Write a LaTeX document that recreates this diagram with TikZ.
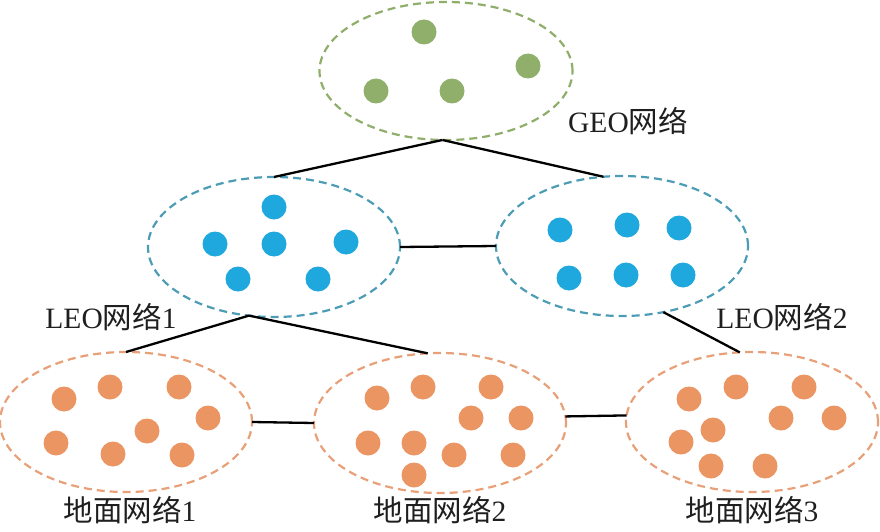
\documentclass[tikz,border=0pt]{standalone}
\usepackage{fontspec}
\setmainfont{Liberation Serif}
\newfontfamily\cjk{Noto Sans CJK SC}
\usetikzlibrary{shapes.geometric}
\definecolor{geoc}{HTML}{8FAF6B}
\definecolor{geoe}{HTML}{8FAE6A}
\definecolor{leoc}{HTML}{1FA8DD}
\definecolor{leoe}{HTML}{4D9CB6}
\definecolor{grc}{HTML}{EB9562}
\definecolor{gre}{HTML}{E8A078}
\tikzset{
  net/.style={ellipse, draw, dashed, dash pattern=on 8pt off 5pt, line width=2.2pt,
    minimum width=252pt, minimum height=140pt, inner sep=0pt, outer sep=0pt},
  geonet/.style={net, draw=geoe, minimum height=138pt, minimum width=253pt},
  leonet/.style={net, draw=leoe},
  grnet/.style={net, draw=gre},
  dot/.style={circle, minimum size=25pt, inner sep=0pt, draw=none},
  geodot/.style={dot, fill=geoc},
  leodot/.style={dot, fill=leoc},
  grdot/.style={dot, fill=grc},
  link/.style={draw=black, line width=2.3pt},
  lab/.style={anchor=base, inner sep=0pt, font=\fontsize{29.5}{34}\selectfont, text=black!88}
}
\begin{document}
\begin{tikzpicture}[x=1pt,y=-1pt]
\useasboundingbox (0,0) rectangle (880,532);
% networks
\node[geonet] (geo) at (446,71) {};
\node[leonet] (leo1) at (274,247) {};
\node[leonet] (leo2) at (622,246) {};
\node[grnet] (g1) at (126,422) {};
\node[grnet] (g2) at (440,423) {};
\node[grnet] (g3) at (752,422) {};
% GEO dots
\foreach \x/\y [count=\i] in {424/32, 528/66, 376/91, 452/91}
  \node[geodot] (gd\i) at (\x,\y) {};
% LEO1 dots
\foreach \x/\y [count=\i] in {274/207, 215/244, 274/244, 346/242, 238/279, 318/279}
  \node[leodot] (la\i) at (\x,\y) {};
% LEO2 dots
\foreach \x/\y [count=\i] in {560/230, 627/225, 679/228, 569/278, 626/275, 683/275}
  \node[leodot] (lb\i) at (\x,\y) {};
% Ground 1 dots
\foreach \x/\y [count=\i] in {64/399, 110/387, 179/387, 208/418, 147/431, 56/443, 113/454, 182/455}
  \node[grdot] (ga\i) at (\x,\y) {};
% Ground 2 dots
\foreach \x/\y [count=\i] in {377/398, 423/387, 491/387, 471/418, 521/418, 368/443, 414/443, 454/455, 513/455, 414/475}
  \node[grdot] (gb\i) at (\x,\y) {};
% Ground 3 dots
\foreach \x/\y [count=\i] in {689/399, 736/387, 804/387, 781/418, 834/418, 713/430, 681/442, 711/466, 765/466}
  \node[grdot] (gc\i) at (\x,\y) {};
% links
\draw[link] (geo.-93) -- (leo1.north);
\draw[link] (geo.-93) -- (leo2.105);
\draw[link] (leo1.east) -- (leo2.west);
\draw[link] (leo1.-110) -- (g1.north);
\draw[link] (leo1.-110) -- (g2.100);
\draw[link] (leo2.-58) -- (g3.100);
\draw[link] (g1.east) -- (g2.west);
\draw[link] (g2.3) -- (g3.177);
% labels
\node[lab] (tgeo) at (628,132) {GEO{\cjk 网络}};
\node[lab] (tleo1) at (111,328) {LEO{\cjk 网络}1};
\node[lab] (tleo2) at (782,328) {LEO{\cjk 网络}2};
\node[lab] (tg1) at (130,521) {{\cjk 地面网络}1};
\node[lab] (tg2) at (440,521) {{\cjk 地面网络}2};
\node[lab] (tg3) at (752,521) {{\cjk 地面网络}3};
\end{tikzpicture}
\end{document}
